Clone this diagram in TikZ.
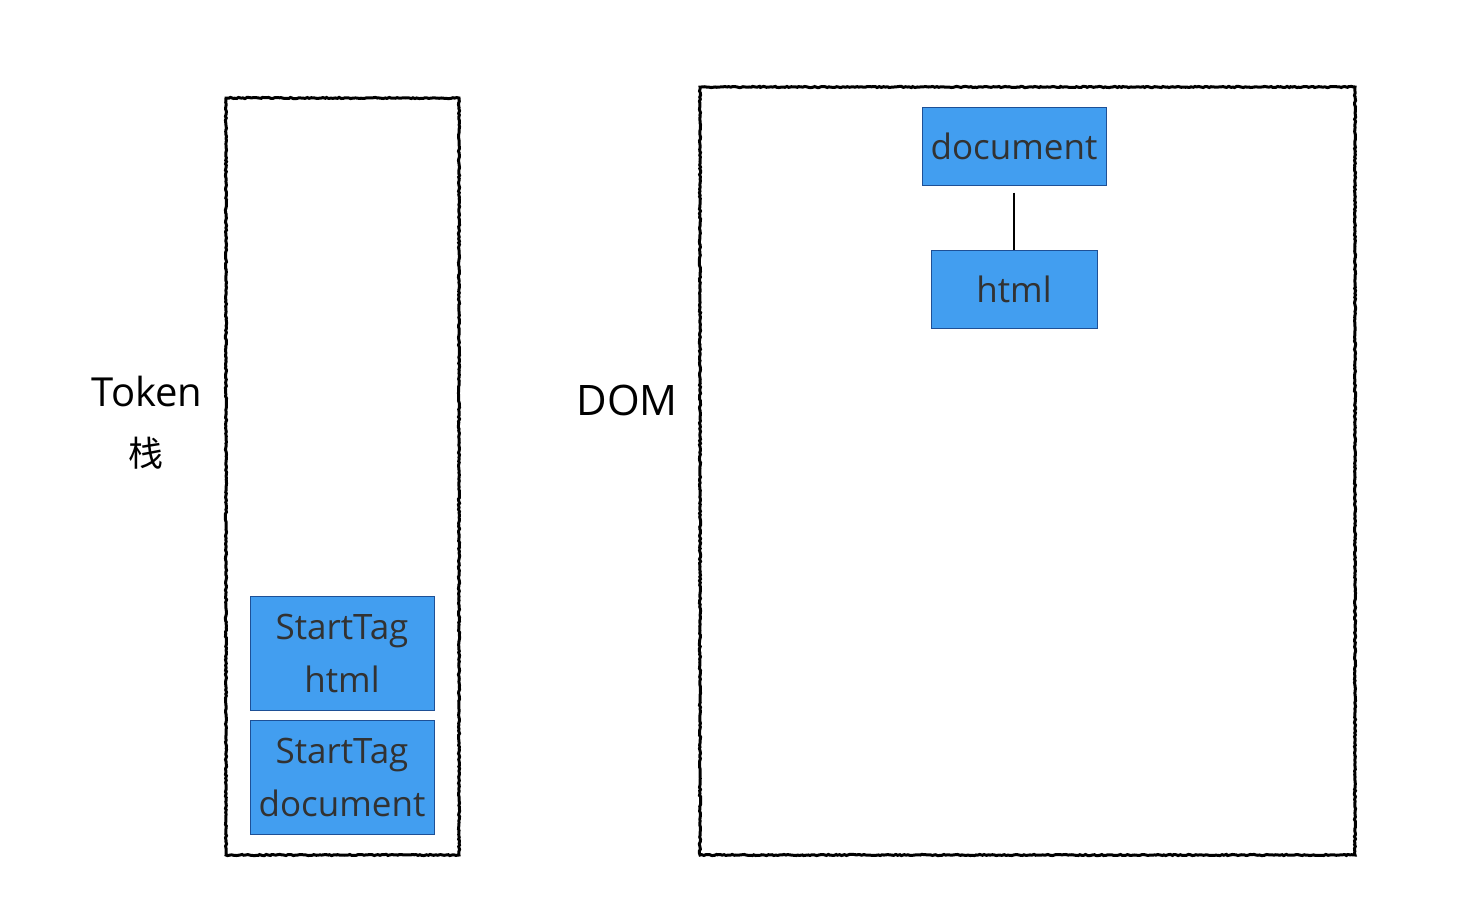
\documentclass[tikz,border=0pt]{standalone}
\usepackage{fontspec}
\setmainfont{Open Sans}
\newfontfamily\cjk{Noto Sans CJK SC}
\usetikzlibrary{decorations.pathmorphing}
\definecolor{boxblue}{RGB}{66,158,240}
\definecolor{boxedge}{RGB}{30,80,150}
\definecolor{txt}{RGB}{50,50,50}
\begin{document}
\begin{tikzpicture}[x=1pt,y=-1pt,
  frame/.style={draw=black,line width=3pt,decorate,decoration={random steps,segment length=2pt,amplitude=0.6pt}},
  tok/.style={draw=boxedge,line width=1pt,fill=boxblue,text=txt,inner sep=0pt,align=center,
    font=\fontsize{35}{53}\selectfont},
  lbl/.style={inner sep=0pt,text=black}]
\useasboundingbox[fill=white] (0,0) rectangle (1464,908);
% frames
\draw[frame] (226,98) rectangle (459,855);
\draw[frame] (700,87) rectangle (1355,855);
% labels
\node[lbl,font=\fontsize{40}{48}\selectfont] (token) at (147,391) {Token};
\node[lbl,font=\cjk\fontsize{35}{40}\selectfont] (zhan) at (146,453) {栈};
\node[lbl,font=\fontsize{42}{50}\selectfont] (dom) at (627,400) {DOM};
% stack tokens
\node[tok,minimum width=184pt,minimum height=114pt] (sthtml) at (342,653) {StartTag\\html};
\node[tok,minimum width=184pt,minimum height=114pt] (stdoc) at (342,777) {StartTag\\document};
% DOM tree
\node[tok,minimum width=184pt,minimum height=78pt,text depth=0pt] (ddoc) at (1014,146) {document};
\node[tok,minimum width=166pt,minimum height=78pt] (dhtml) at (1014,289) {html};
\draw[line width=1.6pt,shorten <=7pt] (ddoc.south) -- (dhtml.north);
\end{tikzpicture}
\end{document}
